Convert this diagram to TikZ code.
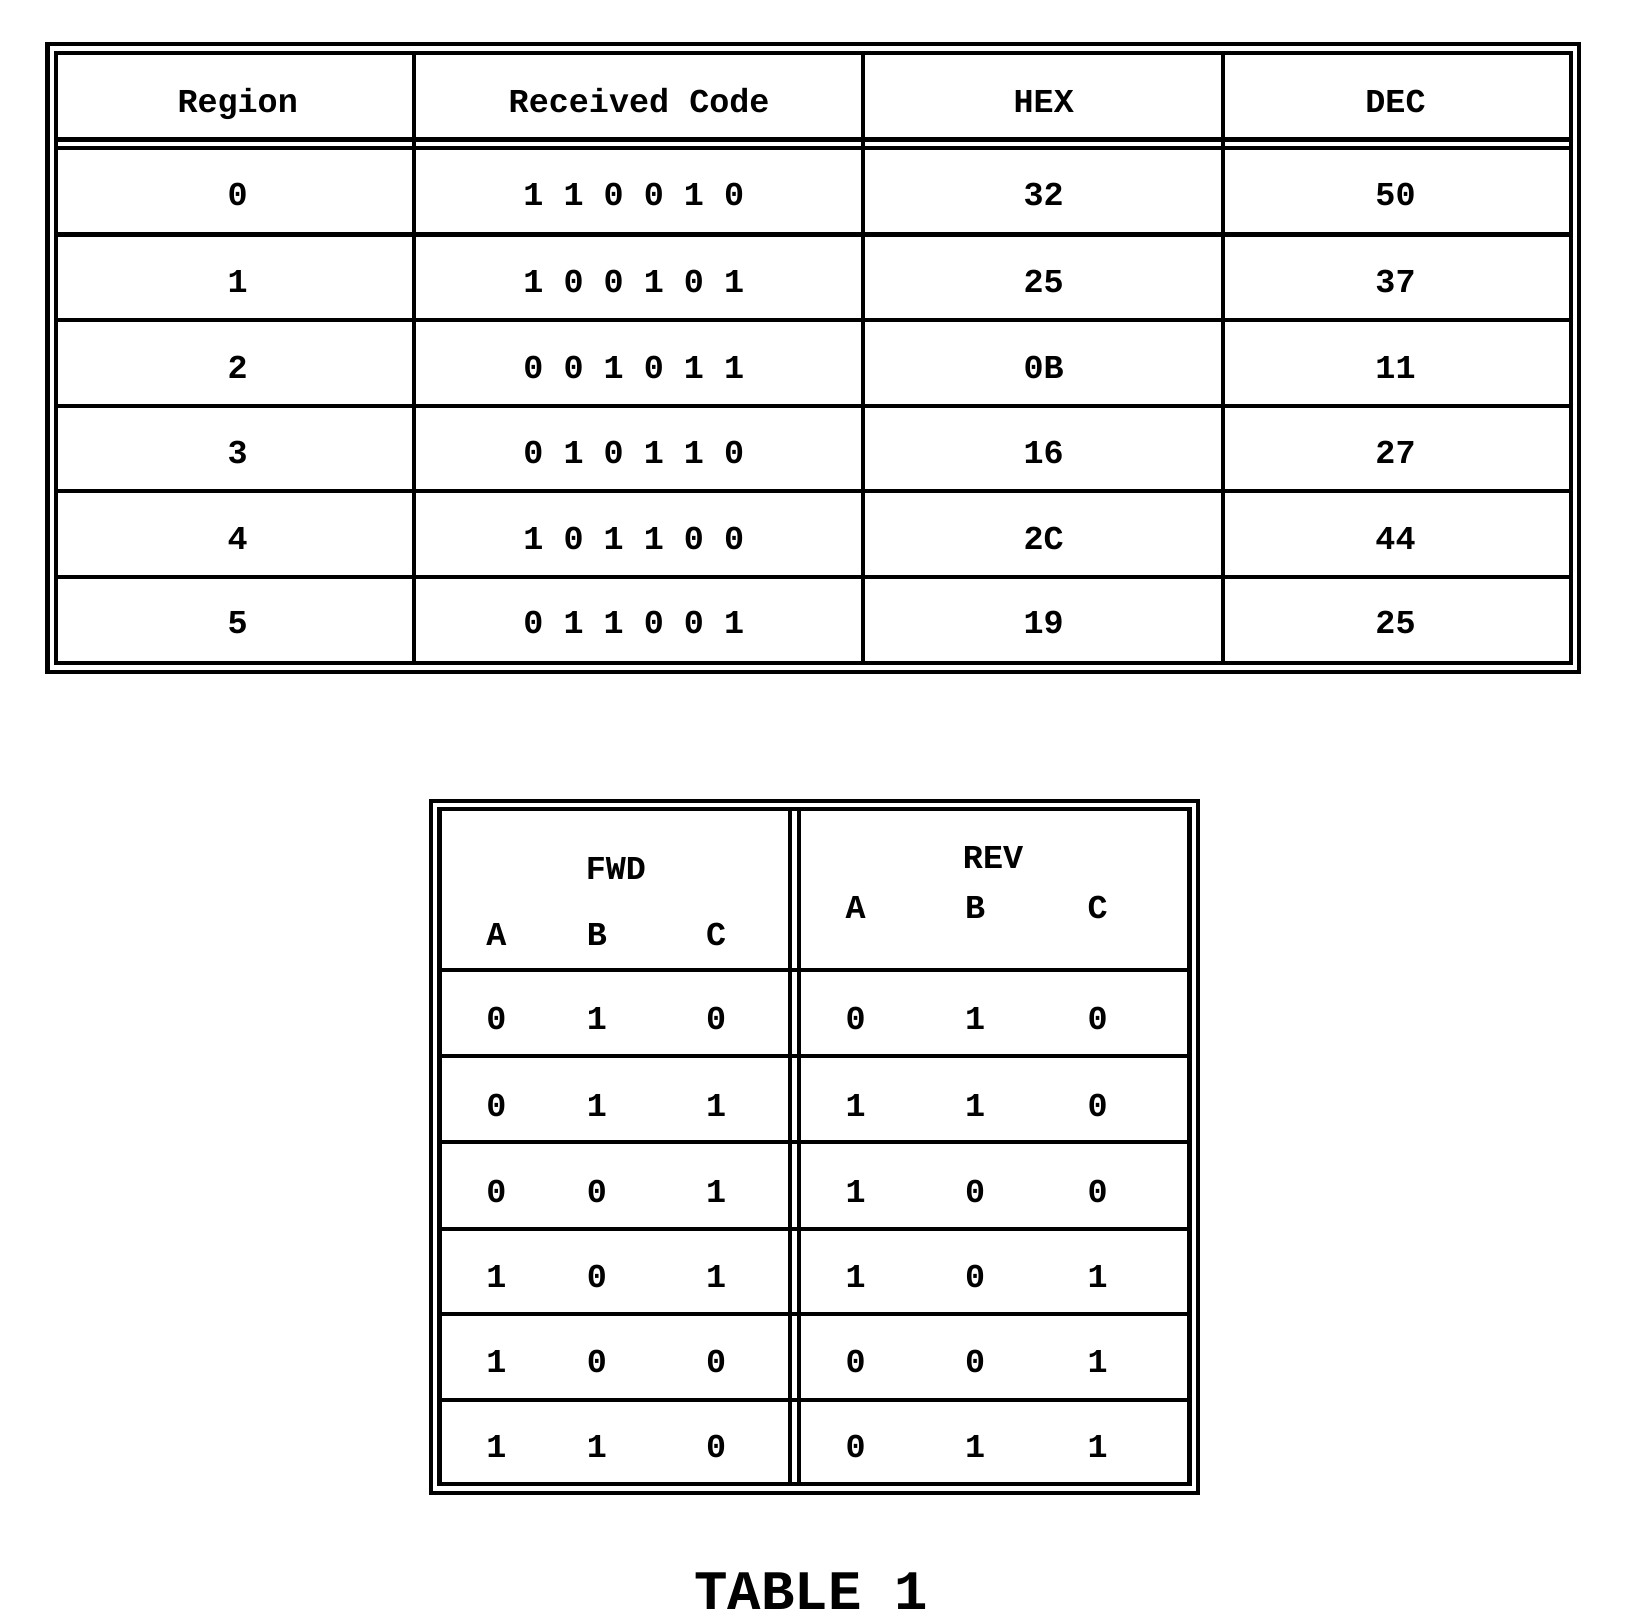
\documentclass[tikz,border=0pt]{standalone}
\usepackage{fontspec}
\setmonofont{Liberation Mono}
\usetikzlibrary{positioning}
\begin{document}
\begin{tikzpicture}[x=0.01cm, y=-0.01cm,
    rule/.style={line width=1.1pt},
    cell/.style={font=\ttfamily\fontsize{9}{11}\selectfont\bfseries, text height=1.6ex, text depth=.3ex},
    caption/.style={font=\ttfamily\fontsize{15}{18}\selectfont\bfseries}
]
\useasboundingbox (0,0) rectangle (1560,1535);

% Upper table: frame
\draw[rule] (45,42) rectangle (1495,636);
\draw[rule] (53,50) rectangle (1487,628);
\draw[rule] (53,132) -- (1487,132);
\draw[rule] (53,140) -- (1487,140);
\foreach \y in {222,303,384,465,546} \draw[rule] (53,\y) -- (1487,\y);
\foreach \x in {392,817,1158} \draw[rule] (\x,50) -- (\x,628);

% Upper table: header
\node[cell] (hreg) at (225,97) {Region};
\node[cell] (hcode) at (605,97) {Received Code};
\node[cell] (hhex) at (988,97) {HEX};
\node[cell] (hdec) at (1321,97) {DEC};

% Upper table: rows
\foreach \r/\code/\hex/\dec [count=\i from 0] in
  {185/1 1 0 0 1 0/32/50, 267/1 0 0 1 0 1/25/37, 348/0 0 1 0 1 1/0B/11,
   429/0 1 0 1 1 0/16/27, 510/1 0 1 1 0 0/2C/44, 590/0 1 1 0 0 1/19/25}{
  \node[cell] (reg\i) at (225,\r) {\i};
  \node[cell] (code\i) at (600,\r) {\code};
  \node[cell] (hex\i) at (988,\r) {\hex};
  \node[cell] (dec\i) at (1321,\r) {\dec};
}

% Lower table: frame
\draw[rule] (408,758) rectangle (1134,1413);
\draw[rule] (416,766) rectangle (1126,1405);
\draw[rule] (748,766) -- (748,1405);
\draw[rule] (756,766) -- (756,1405);
\foreach \y in {918,1000,1081,1163,1244,1325} \draw[rule] (416,\y) -- (1126,\y);

% Lower table: header
\node[cell] (fwd) at (583,823) {FWD};
\node[cell] (rev) at (940,812) {REV};
\foreach \c/\x in {A/470,B/565,C/678} \node[cell] (f\c) at (\x,885) {\c};
\foreach \c/\x in {A/810,B/923,C/1039} \node[cell] (r\c) at (\x,860) {\c};

% Lower table: rows
\foreach \r/\fa/\fb/\fc/\ra/\rb/\rc [count=\i] in
  {965/0/1/0/0/1/0, 1047/0/1/1/1/1/0, 1128/0/0/1/1/0/0,
   1209/1/0/1/1/0/1, 1289/1/0/0/0/0/1, 1370/1/1/0/0/1/1}{
  \node[cell] (fa\i) at (470,\r) {\fa};
  \node[cell] (fb\i) at (565,\r) {\fb};
  \node[cell] (fc\i) at (678,\r) {\fc};
  \node[cell] (ra\i) at (810,\r) {\ra};
  \node[cell] (rb\i) at (923,\r) {\rb};
  \node[cell] (rc\i) at (1039,\r) {\rc};
}

% Caption
\node[caption] (title) at (768,1506) {TABLE 1};
\end{tikzpicture}
\end{document}
